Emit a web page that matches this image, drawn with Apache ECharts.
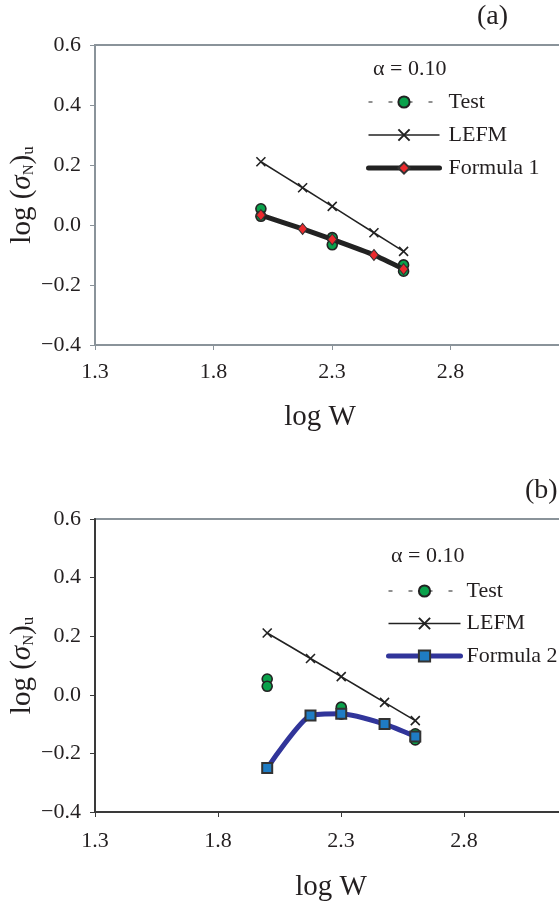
<!DOCTYPE html>
<html>
<head>
<meta charset="utf-8">
<script src="https://cdn.jsdelivr.net/npm/echarts@6/dist/echarts.min.js"></script>
<style>
html,body{margin:0;padding:0;background:#fff;}
#c{width:559px;height:902px;}
</style>
</head>
<body>
<div id="c"></div>
<script>
// ---- data ----
var logW = [2.000, 2.176, 2.301, 2.477, 2.602];
var testX = [2.000, 2.000, 2.301, 2.301, 2.602, 2.602];
var testY = [0.054, 0.029, -0.042, -0.066, -0.133, -0.154];
var lefm = [0.211, 0.124, 0.062, -0.026, -0.088];
var formula1 = [0.033, -0.013, -0.048, -0.100, -0.147];
var formula2 = [-0.250, -0.071, -0.065, -0.100, -0.142];
var xTickValues = [1.3, 1.8, 2.3, 2.8];
var panelLabels = ['(a)', '(b)'];
var alphaLabel = 'α = 0.10';

function pairs(xs, ys) { return xs.map(function (x, i) { return [x, ys[i]]; }); }

var FONT = 'Liberation Serif';
var TXT = '#231f20';
var GRAYAX = '#8a939a';
var DARKAX = '#3a3a3a';
var crossPath = 'path://M0,0L10,10M0,10L10,0';

function xAxisCfg(idx, color, nameGap, padRight, labelMargin) {
  return {
    gridIndex: idx, type: 'value', min: 1.3, max: 3.3,
    name: 'log W', nameLocation: 'middle', nameGap: nameGap, nameMoveOverlap: false,
    nameTextStyle: { fontFamily: FONT, fontSize: 29, color: TXT, padding: [0, padRight, 0, 0] },
    axisLine: { show: true, onZero: false, lineStyle: { color: color, width: 2 } },
    axisTick: { show: true, length: 5, customValues: xTickValues, lineStyle: { color: color, width: 1 } },
    axisLabel: { customValues: xTickValues, margin: labelMargin, fontFamily: FONT, fontSize: 22, color: TXT,
      formatter: function (v) { return v.toFixed(1); } },
    splitLine: { show: false }
  };
}
function yAxisCfg(idx, color, nameGap) {
  return {
    gridIndex: idx, type: 'value', min: -0.4, max: 0.6, interval: 0.2,
    name: '{m|log (}{s|σ}{n|N}{m|)}{u|u}', nameLocation: 'middle', nameRotate: 90, nameGap: nameGap, nameMoveOverlap: false,
    nameTextStyle: {
      fontFamily: FONT, fontSize: 29, color: TXT,
      rich: {
        m: { fontFamily: FONT, fontSize: 29, color: TXT, lineHeight: 30 },
        s: { fontFamily: FONT, fontSize: 29, fontStyle: 'italic', color: TXT, lineHeight: 30 },
        n: { fontFamily: FONT, fontSize: 15, color: TXT, verticalAlign: 'bottom', lineHeight: 14 },
        u: { fontFamily: FONT, fontSize: 17, color: TXT, verticalAlign: 'bottom', lineHeight: 12 }
      }
    },
    axisLine: { show: true, onZero: false, lineStyle: { color: color, width: 2 } },
    axisTick: { show: true, length: 5, lineStyle: { color: color, width: 1 } },
    axisLabel: { margin: 14, fontFamily: FONT, fontSize: 22, color: TXT,
      formatter: function (v) { var s = Math.abs(v).toFixed(1); return (v < -1e-9 ? '\u2212' : '') + s; } },
    splitLine: { show: false }
  };
}

function testSeries(idx) {
  return {
    name: 'Test', type: 'line', xAxisIndex: idx, yAxisIndex: idx,
    data: pairs(testX, testY), symbol: 'circle', symbolSize: 10, showSymbol: true,
    lineStyle: { width: 0, color: '#222' },
    itemStyle: { color: '#0aa14b', borderColor: '#222', borderWidth: 1.6 },
    z: 2, animation: false
  };
}
function lefmSeries(idx) {
  return {
    name: 'LEFM', type: 'line', xAxisIndex: idx, yAxisIndex: idx,
    data: pairs(logW, lefm), symbol: crossPath, symbolSize: 9, smooth: 0.2,
    lineStyle: { width: 1.6, color: '#222' },
    itemStyle: { color: '#222', borderColor: '#222', borderWidth: 1.6 },
    z: 3, animation: false
  };
}

var option = {
  backgroundColor: '#fff',
  animation: false,
  title: [
    { text: panelLabels[0], left: 477, top: 3, padding: 0, textStyle: { fontFamily: FONT, fontSize: 28, fontWeight: 'normal', color: TXT } },
    { text: panelLabels[1], left: 525, top: 477, padding: 0, textStyle: { fontFamily: FONT, fontSize: 28, fontWeight: 'normal', color: TXT } },
    { text: alphaLabel, left: 373, top: 58, padding: 0, textStyle: { fontFamily: FONT, fontSize: 22, fontWeight: 'normal', color: TXT } },
    { text: alphaLabel, left: 391, top: 545, padding: 0, textStyle: { fontFamily: FONT, fontSize: 22, fontWeight: 'normal', color: TXT } }
  ],
  grid: [
    { left: 95, top: 45, right: -10, bottom: 557, show: true, borderColor: GRAYAX, borderWidth: 2, containLabel: false, outerBoundsMode: 'none' },
    { left: 95, top: 519, right: -28, bottom: 90, show: true, borderColor: GRAYAX, borderWidth: 2, containLabel: false, outerBoundsMode: 'none' }
  ],
  xAxis: [xAxisCfg(0, GRAYAX, 58, 24, 16), xAxisCfg(1, DARKAX, 61, 20, 18)],
  yAxis: [yAxisCfg(0, GRAYAX, 58), yAxisCfg(1, DARKAX, 58)],
  legend: [
    {
      orient: 'vertical', left: 366, top: 91, padding: 0, itemGap: 11, itemWidth: 71, itemHeight: 14,
      selectedMode: false,
      textStyle: { fontFamily: FONT, fontSize: 22, color: TXT, padding: [0, 0, 0, 4] },
      lineStyle: { width: 'inherit' },
      data: [
        { name: 'Test', lineStyle: { width: 1.2, type: [4, 16], color: '#222' } },
        { name: 'LEFM' },
        { name: 'Formula 1' }
      ]
    },
    {
      orient: 'vertical', left: 386, top: 580, padding: 0, itemGap: 10.5, itemWidth: 72, itemHeight: 14,
      selectedMode: false,
      textStyle: { fontFamily: FONT, fontSize: 22, color: TXT, padding: [0, 0, 0, 1] },
      lineStyle: { width: 'inherit' },
      data: [
        { name: 'Test', lineStyle: { width: 1.2, type: [4, 16], color: '#222' } },
        { name: 'LEFM' },
        { name: 'Formula 2' }
      ]
    }
  ],
  series: [
    testSeries(0),
    lefmSeries(0),
    {
      name: 'Formula 1', type: 'line', xAxisIndex: 0, yAxisIndex: 0,
      data: pairs(logW, formula1), symbol: 'diamond', symbolSize: [9, 11], smooth: 0.2,
      lineStyle: { width: 5, color: '#222', cap: 'round' },
      itemStyle: { color: '#ec2a2e', borderColor: '#333', borderWidth: 1 },
      z: 4, animation: false
    },
    testSeries(1),
    lefmSeries(1),
    {
      name: 'Formula 2', type: 'line', xAxisIndex: 1, yAxisIndex: 1,
      data: pairs(logW, formula2), symbol: 'rect', symbolSize: 10, smooth: 0.2,
      lineStyle: { width: 5, color: '#31359a', cap: 'round' },
      itemStyle: { color: '#1f7cc4', borderColor: '#333', borderWidth: 2 },
      z: 4, animation: false
    }
  ]
};

var chart = echarts.init(document.getElementById('c'), null, { renderer: 'canvas' });
chart.setOption(option);
</script>
</body>
</html>
